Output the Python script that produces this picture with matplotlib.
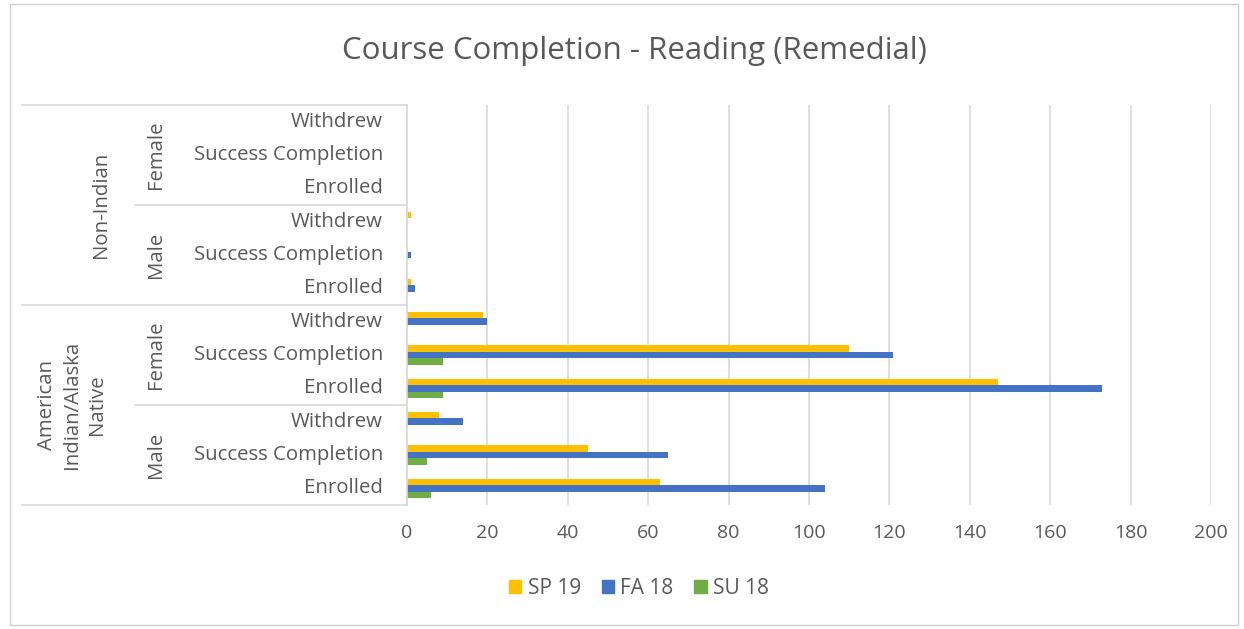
import matplotlib
matplotlib.use("Agg")
import matplotlib.pyplot as plt
from matplotlib.patches import Rectangle
from matplotlib.lines import Line2D
import numpy as np

plt.rcParams['font.family'] = ['Open Sans', 'DejaVu Sans']

# Categories bottom -> top
ethnicities = ["American\nIndian/Alaska\nNative", "Non-Indian"]
genders = ["Male", "Female"]
outcomes = ["Enrolled", "Success Completion", "Withdrew"]

series_names = ["SP 19", "FA 18", "SU 18"]
sp19 = [63, 45, 8, 147, 110, 19, 1, 0, 1, 0, 0, 0]
fa18 = [104, 65, 14, 173, 121, 20, 2, 1, 0, 0, 0, 0]
su18 = [6, 5, 0, 9, 9, 0, 0, 0, 0, 0, 0, 0]
colors = ["#FFC000", "#4472C4", "#70AD47"]

x_ticks = [0, 20, 40, 60, 80, 100, 120, 140, 160, 180, 200]

W, H = 1244, 629
fig = plt.figure(figsize=(W / 100, H / 100), dpi=100)
txt = "#595959"
linec = "#D9D9D9"

# outer border
fig.patches.append(Rectangle((10 / W, 4 / H), 1228 / W, 621 / H, transform=fig.transFigure,
                             fill=False, edgecolor="#D0D0D0", linewidth=1.0))

ax_l, ax_r, ax_t, ax_b = 407, 1211, 105, 505
ax = fig.add_axes([ax_l / W, 1 - ax_b / H, (ax_r - ax_l) / W, (ax_b - ax_t) / H])

n = len(sp19)
y = np.arange(n)
h = 0.195
offs = [h, 0, -h]
for vals, name, c, o in zip([sp19, fa18, su18], series_names, colors, offs):
    ax.barh(y + o, vals, height=h, color=c, label=name, zorder=3)

ax.set_xlim(0, 200)
ax.set_ylim(-0.5, n - 0.5)
ax.set_xticks(x_ticks)
ax.set_xticklabels([str(t) for t in x_ticks], fontsize=14, color=txt)
ax.tick_params(axis='x', length=0, pad=14)
ax.set_yticks([])
ax.grid(axis='x', color=linec, linewidth=1.2, zorder=0)
for s in ["top", "right", "bottom"]:
    ax.spines[s].set_visible(False)
ax.spines["left"].set_color(linec)
ax.spines["left"].set_linewidth(1.2)
ax.spines["left"].set_zorder(4)

# Multi-level category axis
def ypix(v):
    return ax_b - (v + 0.5) / n * (ax_b - ax_t)

def fx(px):
    return px / W

def fy(py):
    return 1 - py / H

fs = 14.7
labels = [outcomes[i % 3] for i in range(n)]
for i, lab in enumerate(labels):
    fig.text(fx(383), fy(ypix(i)), lab, ha="right", va="center", fontsize=fs, color=txt)

for g in range(4):
    center = g * 3 + 1
    fig.text(fx(156), fy(ypix(center)), genders[g % 2], rotation=90, ha="center",
             va="center", fontsize=fs, color=txt)

fig.text(fx(101), fy(ypix(8.5)), ethnicities[1], rotation=90, ha="center", va="center",
         fontsize=fs, color=txt)
fig.text(fx(72), fy(ypix(2.5)), ethnicities[0], rotation=90, ha="center", va="center",
         fontsize=fs, color=txt, multialignment="center", linespacing=1.3)

for b in [-0.5, 5.5, 11.5]:
    yy = fy(ypix(b))
    fig.add_artist(Line2D([fx(22), fx(ax_l)], [yy, yy], color=linec, linewidth=1.2))
for b in [2.5, 8.5]:
    yy = fy(ypix(b))
    fig.add_artist(Line2D([fx(135), fx(ax_l)], [yy, yy], color=linec, linewidth=1.2))

fig.text(fx(634), fy(51), "Course Completion - Reading (Remedial)", ha="center", va="center",
         fontsize=22.5, color=txt)

handles = [Rectangle((0, 0), 1, 1, color=c) for c in colors]
fig.legend(handles, series_names, loc="center", bbox_to_anchor=(fx(639), fy(588)),
           ncol=3, frameon=False, fontsize=15, labelcolor=txt, handlelength=0.6,
           handleheight=0.6, handletextpad=0.3, columnspacing=1.0)

fig.savefig("out.png", dpi=100)
